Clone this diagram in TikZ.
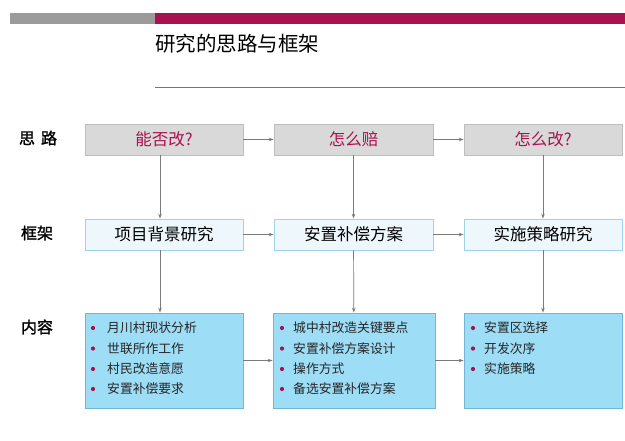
\documentclass[tikz,border=0pt]{standalone}
\usepackage{fontspec}
\setmainfont{Noto Sans CJK SC}[AutoFakeBold=1.5]
\usetikzlibrary{arrows.meta}
\definecolor{crim}{HTML}{A8124E}
\definecolor{barGray}{HTML}{9B9B9B}
\definecolor{ruleLine}{HTML}{8A6A78}
\definecolor{g1fill}{HTML}{D9D9D9}
\definecolor{g1draw}{HTML}{BDBDBD}
\definecolor{b2fill}{HTML}{EDF7FC}
\definecolor{b2draw}{HTML}{9FD3EA}
\definecolor{b3fill}{HTML}{9EDDF6}
\definecolor{b3draw}{HTML}{73B5D2}
\definecolor{arr}{HTML}{7A7A7A}
\tikzset{
  rowlabel/.style={inner sep=0pt, font=\fontsize{16}{16}\selectfont\bfseries},
  qbox/.style={draw=g1draw, fill=g1fill, line width=0.8pt, minimum height=31pt, inner sep=0pt, text=crim, font=\fontsize{16.5}{16.5}\selectfont},
  fbox/.style={draw=b2draw, fill=b2fill, line width=0.8pt, minimum height=31pt, inner sep=0pt, font=\fontsize{16.5}{16.5}\selectfont},
  cbox/.style={draw=b3draw, fill=b3fill, line width=0.8pt, minimum height=95pt, inner sep=0pt},
  item/.style={anchor=west, inner sep=0pt, font=\fontsize{12.8}{12.8}\selectfont, text=black!85},
  conn/.style={draw=arr, line width=0.7pt, -{Stealth[length=5pt,width=3.5pt]}},
}
\begin{document}
\begin{tikzpicture}[x=1pt,y=-1pt]
\useasboundingbox (0,0) rectangle (625,440);
% top bars
\fill[barGray] (10,13) rectangle (155,24);
\fill[crim] (155,13) rectangle (625,24);
\node[anchor=west, inner sep=0pt, font=\fontsize{20.5}{20.5}\selectfont] (title) at (155,44) {研究的思路与框架};
\draw[ruleLine, line width=0.8pt] (155,87) -- (625,87);
% row labels
\node[rowlabel] (l1) at (38,138) {思\hspace{6pt}路};
\node[rowlabel] (l2) at (37,233) {框架};
\node[rowlabel] (l3) at (37,327) {内容};
% row 1
\node[qbox, minimum width=158pt] (q1) at (164,139.5) {能否改?};
\node[qbox, minimum width=159pt] (q2) at (353.5,139.5) {怎么赔};
\node[qbox, minimum width=158pt] (q3) at (543,139.5) {怎么改?};
% row 2
\node[fbox, minimum width=158pt] (f1) at (164,234.5) {项目背景研究};
\node[fbox, minimum width=159pt] (f2) at (353.5,234.5) {安置补偿方案};
\node[fbox, minimum width=158pt] (f3) at (543,234.5) {实施策略研究};
% row 3
\node[cbox, minimum width=158pt] (c1) at (164,360.5) {};
\node[cbox, minimum width=162pt] (c2) at (354,360.5) {};
\node[cbox, minimum width=158pt] (c3) at (543,360.5) {};
% items
\node[item] (c1a) at (107,328) {月川村现状分析};
\node[item] (c1b) at (107,348.5) {世联所作工作};
\node[item] (c1c) at (107,369) {村民改造意愿};
\node[item] (c1d) at (107,389) {安置补偿要求};
\node[item] (c2a) at (293,328) {城中村改造关键要点};
\node[item] (c2b) at (293,348.5) {安置补偿方案设计};
\node[item] (c2c) at (293,369) {操作方式};
\node[item] (c2d) at (293,389) {备选安置补偿方案};
\node[item] (c3a) at (484,328) {安置区选择};
\node[item] (c3b) at (484,348.5) {开发次序};
\node[item] (c3c) at (484,369) {实施策略};
\foreach \y in {328,348.5,369,389} {
  \fill[crim] (93,\y) circle (2.1pt);
  \fill[crim] (282,\y) circle (2.1pt);
}
\foreach \y in {328,348.5,369} {
  \fill[crim] (473,\y) circle (2.1pt);
}
% horizontal connectors
\draw[conn] (q1) -- (q2);
\draw[conn] (q2) -- (q3);
\draw[conn] (f1) -- (f2);
\draw[conn] (f2) -- (f3);
\draw[conn] (c1) -- (c2);
\draw[conn] (c2) -- (c3);
% vertical connectors
\draw[conn] ([xshift=-4pt]q1.south) -- ([xshift=-4pt]f1.north);
\draw[conn] (q2) -- (f2);
\draw[conn] (q3) -- (f3);
\draw[conn] ([xshift=-4pt]f1.south) -- ([xshift=-4pt]c1.north);
\draw[conn] (f2) -- (c2);
\draw[conn] (f3) -- (c3);
\end{tikzpicture}
\end{document}
